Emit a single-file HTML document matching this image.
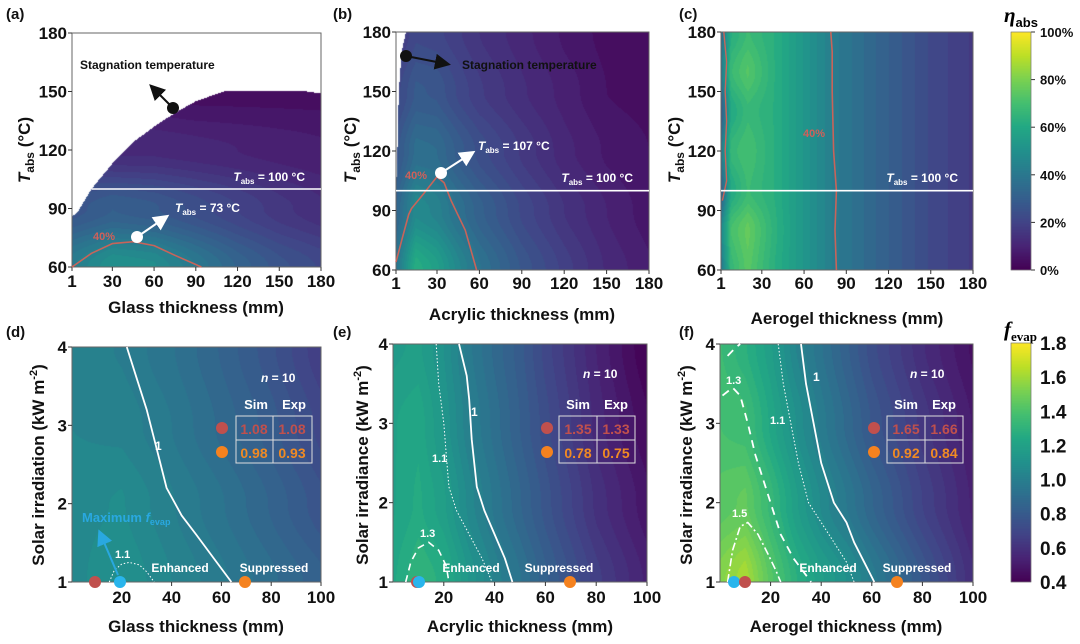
<!DOCTYPE html>
<html><head><meta charset="utf-8"><style>
body{margin:0;background:#fff;}
#wrap{position:relative;width:1080px;height:644px;overflow:hidden;font-family:"Liberation Sans",Arial,sans-serif;}
canvas,svg{position:absolute;left:0;top:0;}
svg text{font-family:"Liberation Sans",Arial,sans-serif;font-weight:bold;}
</style></head><body>
<div id="wrap">
<canvas id="cv" width="1080" height="644"></canvas>
<svg id="sv" width="1080" height="644" xmlns="http://www.w3.org/2000/svg">
<g font-size="15" fill="#111">
<text x="6" y="19">(a)</text>
<text x="333" y="19">(b)</text>
<text x="679" y="19">(c)</text>
<text x="6" y="337">(d)</text>
<text x="333" y="337">(e)</text>
<text x="679" y="337">(f)</text>
</g>
<g font-size="17" fill="#111" text-anchor="middle">
<text x="196" y="313">Glass thickness (mm)</text>
<text x="522" y="320">Acrylic thickness (mm)</text>
<text x="847" y="324">Aerogel thickness (mm)</text>
<text x="196" y="632">Glass thickness (mm)</text>
<text x="520" y="632">Acrylic thickness (mm)</text>
<text x="846" y="632">Aerogel thickness (mm)</text>
<text transform="translate(30,150) rotate(-90)"><tspan font-style="italic">T</tspan><tspan font-size="12" dy="4">abs</tspan><tspan dy="-4"> (°C)</tspan></text>
<text transform="translate(356,150) rotate(-90)"><tspan font-style="italic">T</tspan><tspan font-size="12" dy="4">abs</tspan><tspan dy="-4"> (°C)</tspan></text>
<text transform="translate(680,150) rotate(-90)"><tspan font-style="italic">T</tspan><tspan font-size="12" dy="4">abs</tspan><tspan dy="-4"> (°C)</tspan></text>
<text transform="translate(44,465) rotate(-90)">Solar irradiation (kW m<tspan font-size="11" dy="-7">-2</tspan><tspan dy="7">)</tspan></text>
<text transform="translate(368,465) rotate(-90)">Solar irradiance (kW m<tspan font-size="11" dy="-7">-2</tspan><tspan dy="7">)</tspan></text>
<text transform="translate(692,465) rotate(-90)">Solar irradiance (kW m<tspan font-size="11" dy="-7">-2</tspan><tspan dy="7">)</tspan></text>
</g>
<text x="1004" y="22" font-size="21" style="font-family:'Liberation Serif',serif;font-style:italic">η<tspan font-size="13" dy="5" style="font-family:'Liberation Sans',sans-serif;font-style:normal">abs</tspan></text>
<text x="1004" y="336" font-size="21" style="font-family:'Liberation Serif',serif;font-style:italic">f<tspan font-size="13" dy="5" style="font-style:normal">evap</tspan></text>
<g id="layer"></g>
</svg>
</div>
<script>
// ---------------- data ----------------
var aGridX=[1,30,60,90,120,150,180];
var aGridY=[60,90,120,150,180];
var aValues=[[42,50,48,40,32,26,22],[26,30,28,24,20,16,13],[15,12,12,11,10,9,8],[8,6,5,4,4,4,4],[5,4,4,3,3,3,3]];
var aStagX=[1,5,15,30,45,60,75,90,110,170,180];
var aStagT=[86,88,100,113,124,132,139,145,150,150,149];
var a40X=[1,15,30,45,60,75,94];
var a40Y=[60,67,72,73,71,66,60];

var bGridX=[1,15,30,45,60,90,120,150,180];
var bGridY=[60,90,120,150,180];
var bValues=[[38,62,56,46,38,27,19,12,8],[32,47,44,37,31,22,15,10,6],[26,36,35,29,24,17,11,7,5],[21,28,27,22,18,13,9,5,4],[16,22,21,18,15,11,7,4,3]];
var bStagT=[60,100,120,150,170,180];
var bStagX=[1,1,2,3,5,8];
var b40X=[1,5,10,12,20,30,35,40,50,58];
var b40Y=[64,75,88,91,98,107,104,95,80,60];

var cGridX=[1,8,20,40,60,85,120,150,180];
var cGridY=[60,80,100,120,140,160,180];
var cValues=[[40,66,74,62,52,40,30,22,17],[45,70,76,63,52,40,30,22,17],[30,60,68,62,52,40,30,22,17],[40,66,70,62,52,40,30,22,17],[28,60,67,62,52,40,30,22,17],[40,67,73,62,52,40,30,22,17],[35,62,68,62,52,40,30,22,17]];
var c40X=[83,82,83,81,80,80,79];
var c40Y=[60,80,100,120,150,170,180];
var c40bX=[2,5,4,5,4,5,3];
var c40bY=[95,105,120,135,150,165,180];

var dGridX=[0,20,40,60,80,100];
var dGridY=[1,2,3,4];
var dValues=[[1.05,1.1,1.03,0.97,0.9,0.83],[1.05,1.07,1.0,0.93,0.85,0.76],[1.03,1.02,0.96,0.88,0.8,0.7],[1.02,0.99,0.93,0.85,0.76,0.65]];
var d1X=[22,26,30,34,38,44,50,57,64];
var d1Y=[4,3.6,3.2,2.7,2.2,1.85,1.6,1.3,1];
var d11X=[15,17,20,23,27,30,33];
var d11Y=[1,1.15,1.23,1.25,1.22,1.13,1];

var eGridX=[0,10,20,30,40,50,60,80,100];
var eGridY=[1,2,3,4];
var eValues=[[1.23,1.31,1.26,1.13,1.02,0.93,0.83,0.66,0.53],[1.2,1.25,1.18,1.05,0.95,0.86,0.77,0.6,0.48],[1.2,1.23,1.13,1.0,0.91,0.82,0.73,0.56,0.44],[1.16,1.18,1.1,0.97,0.88,0.8,0.7,0.54,0.4]];
var e1X=[26,29,30,31,33,36,40,44,47];
var e1Y=[4,3.6,3.3,2.8,2.2,1.9,1.6,1.3,1];
var e11X=[17,18,20,21,22,25,30,35,39];
var e11Y=[4,3.5,3,2.6,2.2,1.9,1.6,1.3,1];
var e13X=[5,7,10,14,18,21,22];
var e13Y=[1,1.25,1.43,1.5,1.4,1.2,1];

var fGridX=[0,10,20,30,40,50,60,80,100];
var fGridY=[1,2,3,4];
var fValues=[[1.54,1.62,1.43,1.28,1.18,1.1,0.98,0.78,0.58],[1.43,1.46,1.33,1.18,1.06,0.96,0.86,0.68,0.53],[1.38,1.36,1.23,1.1,0.98,0.88,0.78,0.63,0.5],[1.35,1.28,1.18,1.03,0.93,0.83,0.73,0.58,0.46]];
var f1X=[32,34,37,40,45,50,53,57,61];
var f1Y=[4,3.5,3,2.5,2,1.75,1.5,1.25,1];
var f11X=[23,25,28,31,35,40,45,50,53];
var f11Y=[4,3.5,3,2.5,2,1.75,1.5,1.25,1];
var f13X=[1,5,8,11,14,18,21,24,29,36];
var f13Y=[3.35,3.45,3.35,3.0,2.6,2.2,1.9,1.6,1.3,1];
var f13bX=[3,6,8];
var f13bY=[3.85,3.95,4];
var f15X=[3,5,8,11,15,19,22,24];
var f15Y=[1,1.4,1.7,1.75,1.6,1.35,1.15,1];

var etaTicks=[0,20,40,60,80,100];
var fevTicks=[0.4,0.6,0.8,1.0,1.2,1.4,1.6,1.8];
var thickTicks=[1,30,60,90,120,150,180];
var tempTicks=[60,90,120,150,180];
var fxTicks=[20,40,60,80,100];
var fyTicks=[1,2,3,4];
// -------------------------------------

var VIR=[[68,1,84],[72,36,117],[65,68,135],[53,95,141],[42,120,142],[33,145,140],[34,168,132],[68,191,112],[122,209,81],[189,223,38],[253,231,37]];
function vir(t){t=Math.max(0,Math.min(1,t));var s=t*10,i=Math.min(9,Math.floor(s)),f=s-i;var a=VIR[i],b=VIR[i+1];return [a[0]+(b[0]-a[0])*f,a[1]+(b[1]-a[1])*f,a[2]+(b[2]-a[2])*f];}
function lerp1(xs,ys,x){if(x<=xs[0])return ys[0];for(var i=0;i<xs.length-1;i++){if(x<=xs[i+1]){var f=(x-xs[i])/(xs[i+1]-xs[i]);return ys[i]+(ys[i+1]-ys[i])*f;}}return ys[ys.length-1];}
function idx(g,v){for(var i=0;i<g.length-2;i++){if(v<=g[i+1])break;}var f=(v-g[i])/(g[i+1]-g[i]);return [i,Math.max(0,Math.min(1,f))];}
function sm(f){return f*f*(3-2*f);}
function bil(gx,gy,gv,x,y){var a=idx(gx,x),b=idx(gy,y);var i=a[0],fx=a[1],j=b[0],fy=sm(b[1]);var v0=gv[j][i]*(1-fx)+gv[j][i+1]*fx;var v1=gv[j+1][i]*(1-fx)+gv[j+1][i+1]*fx;return v0*(1-fy)+v1*fy;}

var P={
a:{x0:72,x1:321,y0:33,y1:267,xd:[1,180],yd:[60,180],gx:aGridX,gy:aGridY,gv:aValues,vmin:0,vmax:100,xt:thickTicks,yt:tempTicks,
 mask:function(x,y){return y>lerp1(aStagX,aStagT,x);}},
b:{x0:396,x1:649,y0:32,y1:270,xd:[1,180],yd:[60,180],gx:bGridX,gy:bGridY,gv:bValues,vmin:0,vmax:100,xt:thickTicks,yt:tempTicks,
 mask:function(x,y){return x<lerp1(bStagT,bStagX,y);}},
c:{x0:721,x1:973,y0:32,y1:270,xd:[1,180],yd:[60,180],gx:cGridX,gy:cGridY,gv:cValues,vmin:0,vmax:100,xt:thickTicks,yt:tempTicks,mask:null},
d:{x0:72,x1:321,y0:347,y1:582,xd:[0,100],yd:[1,4],gx:dGridX,gy:dGridY,gv:dValues,vmin:0.4,vmax:1.8,xt:fxTicks,yt:fyTicks,mask:null},
e:{x0:393,x1:647,y0:344,y1:582,xd:[0,100],yd:[1,4],gx:eGridX,gy:eGridY,gv:eValues,vmin:0.4,vmax:1.8,xt:fxTicks,yt:fyTicks,mask:null},
f:{x0:720,x1:973,y0:344,y1:582,xd:[0,100],yd:[1,4],gx:fGridX,gy:fGridY,gv:fValues,vmin:0.4,vmax:1.8,xt:fxTicks,yt:fyTicks,mask:null}
};
function sx(p,v){return p.x0+(v-p.xd[0])/(p.xd[1]-p.xd[0])*(p.x1-p.x0);}
function sy(p,v){return p.y1-(v-p.yd[0])/(p.yd[1]-p.yd[0])*(p.y1-p.y0);}

var cv=document.getElementById('cv'),ctx=cv.getContext('2d');
var img=ctx.createImageData(1080,644);
for(var k=0;k<img.data.length;k+=4){img.data[k]=255;img.data[k+1]=255;img.data[k+2]=255;img.data[k+3]=255;}
var NB=40;
function band(t){t=Math.max(0,Math.min(0.9999,t));return (Math.floor(t*NB)+0.5)/NB;}
function put(px,py,c){var o=(py*1080+px)*4;img.data[o]=c[0];img.data[o+1]=c[1];img.data[o+2]=c[2];}
for(var key in P){var p=P[key];
 for(var py=p.y0;py<p.y1;py++)for(var px=p.x0;px<p.x1;px++){
  var xv=p.xd[0]+(px+0.5-p.x0)/(p.x1-p.x0)*(p.xd[1]-p.xd[0]);
  var yv=p.yd[0]+(p.y1-py-0.5)/(p.y1-p.y0)*(p.yd[1]-p.yd[0]);
  if(p.mask&&p.mask(xv,yv))continue;
  var v=bil(p.gx,p.gy,p.gv,xv,yv);
  put(px,py,vir(band((v-p.vmin)/(p.vmax-p.vmin))));
 }}
function cbar(x0,x1,y0,y1){for(var py=y0;py<y1;py++){var t=(y1-py-0.5)/(y1-y0);var c=vir(t);for(var px=x0;px<x1;px++)put(px,py,c);}}
cbar(1011,1031,32,270);cbar(1011,1031,343,582);
ctx.putImageData(img,0,0);

var NS='http://www.w3.org/2000/svg',L=document.getElementById('layer');
function mk(tag,at,txt){var e=document.createElementNS(NS,tag);for(var a in at)e.setAttribute(a,at[a]);if(txt!=null)e.textContent=txt;L.appendChild(e);return e;}

for(var key in P){var p=P[key];
 var fr=mk('rect',{x:p.x0,y:p.y0,width:p.x1-p.x0,height:p.y1-p.y0,fill:'none',stroke:'#666','stroke-width':1});
 
 
 var tby=(key<'d')?(key=='a'?287:289):603;
 p.xt.forEach(function(t){var X=sx(p,t);
  var tk=mk('line',{x1:X,x2:X,y1:p.y1,y2:p.y1+4,stroke:'#333'});
  
  
  var lb=mk('text',{x:X,y:tby,'font-size':17,'text-anchor':'middle',fill:'#111'},String(t));
  
  });
 p.yt.forEach(function(t){var Y=sy(p,t);
  var tk=mk('line',{x1:p.x0-4,x2:p.x0,y1:Y,y2:Y,stroke:'#333'});
  
  
  var lb=mk('text',{x:p.x0-5,y:Y+6,'font-size':17,'text-anchor':'end',fill:'#111'},String(t));
  
  });
}
etaTicks.forEach(function(t){var Y=270-t/100*238;
 var tk=mk('line',{x1:1031,x2:1035,y1:Y,y2:Y,stroke:'#333'});
 
 
 var lb=mk('text',{x:1040,y:Y+5,'font-size':13,fill:'#111'},t+'%');
 
 });
fevTicks.forEach(function(t){var Y=582-(t-0.4)/1.4*239;
 var lb=mk('text',{x:1040,y:Y+7,'font-size':19,fill:'#111'},t.toFixed(1));
 
 });
var b1=mk('rect',{x:1011,y:32,width:20,height:238,fill:'none',stroke:'#666','stroke-width':0.6});


var b2=mk('rect',{x:1011,y:343,width:20,height:239,fill:'none',stroke:'#666','stroke-width':0.6});



function line(p,xs,ys,st,dash,w,name){var pts=xs.map(function(x,i){return sx(p,x).toFixed(1)+','+sy(p,ys[i]).toFixed(1);}).join(' ');
 var e=mk('polyline',{points:pts,fill:'none',stroke:st,'stroke-width':w||1.6,'stroke-dasharray':dash||'none','stroke-linejoin':'round'});
 
 }
line(P.a,a40X,a40Y,'#c8645a',null,1.6,'contour-40-a');
line(P.b,b40X,b40Y,'#c8645a',null,1.6,'contour-40-b');
line(P.c,c40X,c40Y,'#c8645a',null,1.6,'contour-40-c');
line(P.c,c40bX,c40bY,'#c8645a',null,1.4,'contour-40-c-left');
line(P.d,d1X,d1Y,'#fff',null,1.8,'contour-1-d');
line(P.d,d11X,d11Y,'#fff','1.5,2',1,'contour-1.1-d');
line(P.e,e1X,e1Y,'#fff',null,1.8,'contour-1-e');
line(P.e,e11X,e11Y,'#fff','1.5,2',1,'contour-1.1-e');
line(P.e,e13X,e13Y,'#fff','7,5',1.6,'contour-1.3-e');
line(P.f,f1X,f1Y,'#fff',null,1.8,'contour-1-f');
line(P.f,f11X,f11Y,'#fff','1.5,2',1,'contour-1.1-f');
line(P.f,f13X,f13Y,'#fff','8,6',1.8,'contour-1.3-f');
line(P.f,f13bX,f13bY,'#fff','8,6',1.8,'contour-1.3-f-top');
line(P.f,f15X,f15Y,'#fff','8,3,2,3',1.6,'contour-1.5-f');

['a','b','c'].forEach(function(k){var p=P[k];var x0=p.x0;
 if(k=='a')x0=sx(p,lerp1(aStagT,aStagX,100));
 var e=mk('line',{x1:x0,x2:p.x1,y1:sy(p,100),y2:sy(p,100),stroke:'#fff','stroke-width':1.6});
 
 });
</script>
<svg width="1080" height="644" style="position:absolute;left:0;top:0" xmlns="http://www.w3.org/2000/svg">
<defs>
<marker id="ak" markerWidth="8" markerHeight="8" refX="6" refY="4" orient="auto"><path d="M0,0 L8,4 L0,8 Z" fill="#111"/></marker>
<marker id="aw" markerWidth="8" markerHeight="8" refX="6" refY="4" orient="auto"><path d="M0,0 L8,4 L0,8 Z" fill="#fff"/></marker>
<marker id="ab" markerWidth="8" markerHeight="8" refX="6" refY="4" orient="auto"><path d="M0,0 L8,4 L0,8 Z" fill="#29a8e0"/></marker>
</defs>
<g font-family="Liberation Sans" font-weight="bold">
<text x="80" y="69" font-size="12" fill="#111">Stagnation temperature</text>
<line x1="173" y1="108" x2="152" y2="87" stroke="#111" stroke-width="2" marker-end="url(#ak)"/>
<circle cx="173" cy="108" r="6" fill="#111"/>
<text x="305" y="181" font-size="12" fill="#fff" text-anchor="end"><tspan font-style="italic">T</tspan><tspan font-size="8" dy="3">abs</tspan><tspan dy="-3"> = 100 °C</tspan></text>
<line x1="137" y1="237" x2="166" y2="217" stroke="#fff" stroke-width="2" marker-end="url(#aw)"/>
<circle cx="137" cy="237" r="6" fill="#fff"/>
<text x="175" y="212" font-size="12" fill="#fff"><tspan font-style="italic">T</tspan><tspan font-size="8" dy="3">abs</tspan><tspan dy="-3"> = 73 °C</tspan></text>
<text x="93" y="240" font-size="11" fill="#d0605a">40%</text>
<line x1="406" y1="56" x2="447" y2="64" stroke="#111" stroke-width="2" marker-end="url(#ak)"/>
<circle cx="406" cy="56" r="6" fill="#111"/>
<text x="462" y="69" font-size="12" fill="#111">Stagnation temperature</text>
<line x1="441" y1="173" x2="472" y2="153" stroke="#fff" stroke-width="2" marker-end="url(#aw)"/>
<circle cx="441" cy="173" r="6" fill="#fff"/>
<text x="478" y="150" font-size="12" fill="#fff"><tspan font-style="italic">T</tspan><tspan font-size="8" dy="3">abs</tspan><tspan dy="-3"> = 107 °C</tspan></text>
<text x="405" y="179" font-size="11" fill="#d0605a">40%</text>
<text x="633" y="182" font-size="12" fill="#fff" text-anchor="end"><tspan font-style="italic">T</tspan><tspan font-size="8" dy="3">abs</tspan><tspan dy="-3"> = 100 °C</tspan></text>
<text x="803" y="137" font-size="11" fill="#d0605a">40%</text>
<text x="958" y="182" font-size="12" fill="#fff" text-anchor="end"><tspan font-style="italic">T</tspan><tspan font-size="8" dy="3">abs</tspan><tspan dy="-3"> = 100 °C</tspan></text>
<text x="261" y="382" font-size="12" fill="#fff"><tspan font-style="italic">n</tspan> = 10</text>
<text x="256" y="409" font-size="13" fill="#fff" text-anchor="middle">Sim</text>
<text x="294" y="409" font-size="13" fill="#fff" text-anchor="middle">Exp</text>
<g stroke="#ddd" stroke-width="1" fill="none"><rect x="236" y="416" width="76" height="47"/><line x1="273" y1="416" x2="273" y2="463"/><line x1="236" y1="440" x2="312" y2="440"/></g>
<circle cx="222" cy="428" r="6" fill="#c0504d"/>
<circle cx="222" cy="452" r="6" fill="#f5821f"/>
<text x="254" y="434" font-size="14" fill="#c0504d" text-anchor="middle">1.08</text>
<text x="292" y="434" font-size="14" fill="#c0504d" text-anchor="middle">1.08</text>
<text x="254" y="458" font-size="14" fill="#f08a24" text-anchor="middle">0.98</text>
<text x="292" y="458" font-size="14" fill="#f08a24" text-anchor="middle">0.93</text>
<text x="155" y="450" font-size="12" fill="#fff">1</text>
<text x="115" y="558" font-size="11" fill="#fff">1.1</text>
<text x="180" y="572" font-size="12" fill="#fff" text-anchor="middle">Enhanced</text>
<text x="274" y="572" font-size="12" fill="#fff" text-anchor="middle">Suppressed</text>
<text x="82" y="522" font-size="13" fill="#29a8e0">Maximum <tspan font-style="italic">f</tspan><tspan font-size="9" dy="3">evap</tspan></text>
<line x1="118" y1="575" x2="100" y2="533" stroke="#29a8e0" stroke-width="2" marker-end="url(#ab)"/>
<circle cx="95" cy="582" r="6" fill="#c0504d"/>
<circle cx="120" cy="582" r="6" fill="#29b5ec"/>
<circle cx="245" cy="582" r="6" fill="#f5821f"/>
<text x="583" y="378" font-size="12" fill="#fff"><tspan font-style="italic">n</tspan> = 10</text>
<text x="578" y="409" font-size="13" fill="#fff" text-anchor="middle">Sim</text>
<text x="616" y="409" font-size="13" fill="#fff" text-anchor="middle">Exp</text>
<g stroke="#ddd" stroke-width="1" fill="none"><rect x="559" y="416" width="76" height="47"/><line x1="597" y1="416" x2="597" y2="463"/><line x1="559" y1="440" x2="635" y2="440"/></g>
<circle cx="547" cy="428" r="6" fill="#c0504d"/>
<circle cx="547" cy="452" r="6" fill="#f5821f"/>
<text x="578" y="434" font-size="14" fill="#c0504d" text-anchor="middle">1.35</text>
<text x="616" y="434" font-size="14" fill="#c0504d" text-anchor="middle">1.33</text>
<text x="578" y="458" font-size="14" fill="#f08a24" text-anchor="middle">0.78</text>
<text x="616" y="458" font-size="14" fill="#f08a24" text-anchor="middle">0.75</text>
<text x="471" y="416" font-size="12" fill="#fff">1</text>
<text x="432" y="462" font-size="11" fill="#fff">1.1</text>
<text x="420" y="537" font-size="11" fill="#fff">1.3</text>
<text x="471" y="572" font-size="12" fill="#fff" text-anchor="middle">Enhanced</text>
<text x="559" y="572" font-size="12" fill="#fff" text-anchor="middle">Suppressed</text>
<circle cx="417" cy="582" r="6" fill="#c0504d"/>
<circle cx="419" cy="582" r="6" fill="#29b5ec"/>
<circle cx="570" cy="582" r="6" fill="#f5821f"/>
<text x="910" y="378" font-size="12" fill="#fff"><tspan font-style="italic">n</tspan> = 10</text>
<text x="906" y="409" font-size="13" fill="#fff" text-anchor="middle">Sim</text>
<text x="944" y="409" font-size="13" fill="#fff" text-anchor="middle">Exp</text>
<g stroke="#ddd" stroke-width="1" fill="none"><rect x="887" y="416" width="76" height="47"/><line x1="925" y1="416" x2="925" y2="463"/><line x1="887" y1="440" x2="963" y2="440"/></g>
<circle cx="874" cy="428" r="6" fill="#c0504d"/>
<circle cx="874" cy="452" r="6" fill="#f5821f"/>
<text x="906" y="434" font-size="14" fill="#c0504d" text-anchor="middle">1.65</text>
<text x="944" y="434" font-size="14" fill="#c0504d" text-anchor="middle">1.66</text>
<text x="906" y="458" font-size="14" fill="#f08a24" text-anchor="middle">0.92</text>
<text x="944" y="458" font-size="14" fill="#f08a24" text-anchor="middle">0.84</text>
<text x="813" y="381" font-size="12" fill="#fff">1</text>
<text x="770" y="424" font-size="11" fill="#fff">1.1</text>
<text x="726" y="384" font-size="11" fill="#fff">1.3</text>
<text x="732" y="517" font-size="11" fill="#fff">1.5</text>
<text x="828" y="572" font-size="12" fill="#fff" text-anchor="middle">Enhanced</text>
<text x="917" y="572" font-size="12" fill="#fff" text-anchor="middle">Suppressed</text>
<circle cx="734" cy="582" r="6" fill="#29b5ec"/>
<circle cx="745" cy="582" r="6" fill="#c0504d"/>
<circle cx="897" cy="582" r="6" fill="#f5821f"/>
</g>
</svg>
</body></html>
